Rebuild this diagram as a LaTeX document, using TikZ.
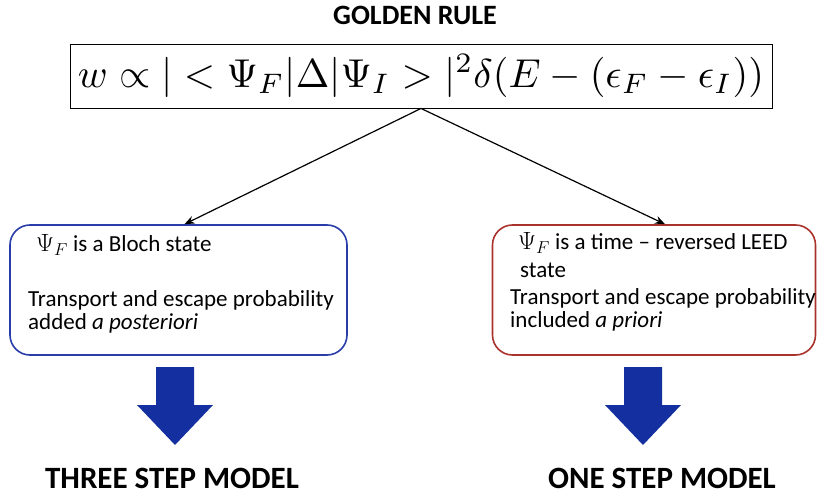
\documentclass[tikz,border=0pt]{standalone}
\usepackage{fontspec}
\setmainfont{Carlito}
\usetikzlibrary{arrows.meta}
\definecolor{boxblue}{RGB}{40,60,170}
\definecolor{boxred}{RGB}{170,50,45}
\definecolor{arrblue}{RGB}{20,48,160}
\tikzset{
  title/.style={font=\fontsize{28}{32}\selectfont\bfseries, inner sep=0pt},
  model/.style={font=\fontsize{31}{35}\selectfont\bfseries, inner sep=0pt},
  boxtext/.style={font=\fontsize{23}{27}\selectfont, anchor=west, inner sep=0pt},
  panel/.style={draw, line width=1.6pt, rounded corners=20pt, minimum width=#1, minimum height=130pt, inner sep=0pt},
  conn/.style={-{Stealth[length=10pt,width=8pt]}, line width=1.2pt},
  bigarrow/.style={fill=arrblue, draw=none}
}
\begin{document}
\begin{tikzpicture}[x=1pt,y=-1pt]
\useasboundingbox (0,0) rectangle (820,497);
\node[title] (gr) at (415,15) {GOLDEN RULE};
\node[draw, line width=0.9pt, minimum width=702pt, minimum height=64pt, inner sep=0pt] (formula) at (421,76)
  {\resizebox{686pt}{!}{$w \propto |<\Psi_F|\Delta|\Psi_I>|^2\delta(E-(\epsilon_F-\epsilon_I))$}};
\node[panel=337pt, draw=boxblue] (left) at (178.5,290) {};
\node[panel=323pt, draw=boxred] (right) at (654,290) {};
\draw[conn] (formula.south) -- ([xshift=6pt]left.north);
\draw[conn] (formula.south) -- ([xshift=11pt]right.north);
\node[boxtext] (l1) at (36,245) {$\Psi_F$ is a Bloch state};
\node[boxtext] (l2) at (28,300) {Transport and escape probability};
\node[boxtext] (l3) at (28,323) {added \textit{a posteriori}};
\node[boxtext] (r1) at (518,243) {$\Psi_F$ is a time -- reversed LEED};
\node[boxtext] (r2) at (520,270) {state};
\node[boxtext] (r3) at (510,298) {Transport and escape probability};
\node[boxtext] (r4) at (510,321) {included \textit{a priori}};
\fill[bigarrow] (156,367) -- (194,367) -- (194,405) -- (213,405) -- (175,445) -- (137,405) -- (156,405) -- cycle;
\fill[bigarrow] (624,367) -- (662,367) -- (662,405) -- (681,405) -- (643,445) -- (605,405) -- (624,405) -- cycle;
\node[model] (three) at (172,478) {THREE STEP MODEL};
\node[model] (one) at (662,478) {ONE STEP MODEL};
\end{tikzpicture}
\end{document}
